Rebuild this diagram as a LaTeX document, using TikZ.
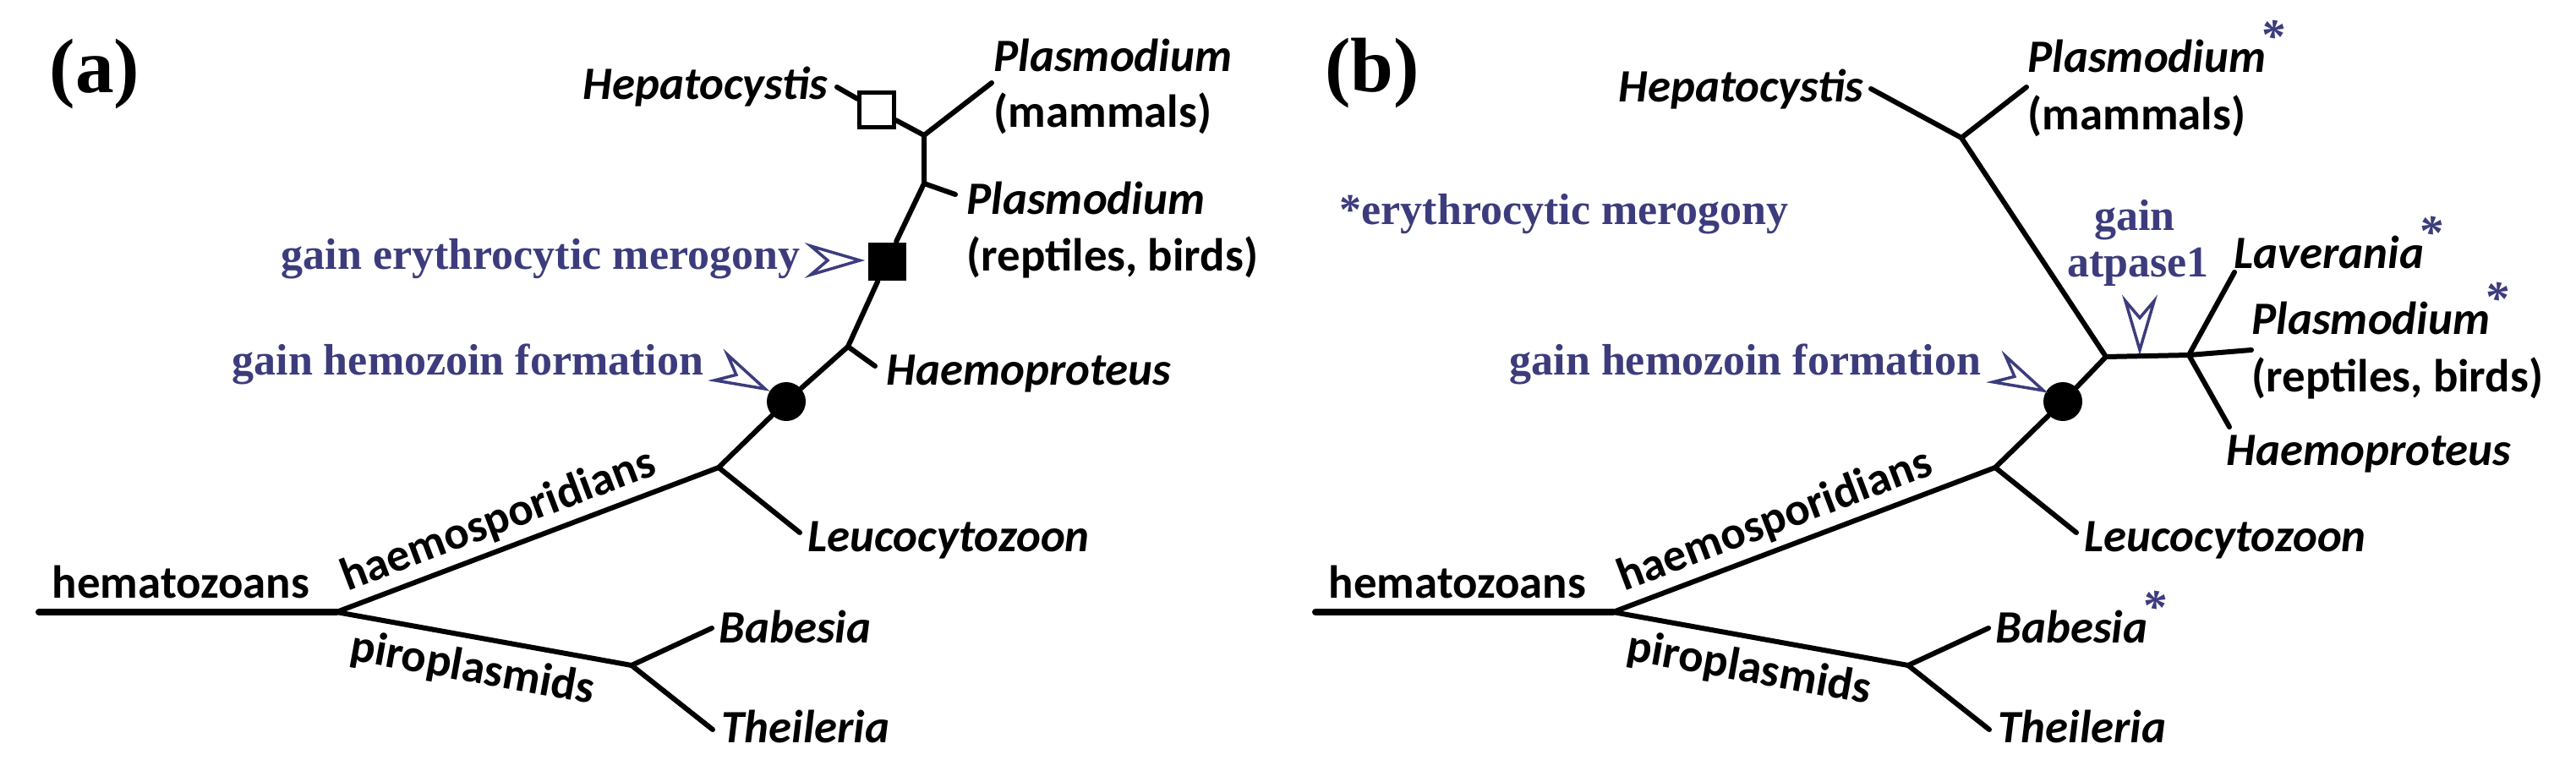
\documentclass[tikz,border=0pt]{standalone}
\usepackage{fontspec}
\setmainfont{Carlito}
\newfontfamily\notefont{Liberation Serif}
\definecolor{gainblue}{RGB}{60,60,125}
\newcommand{\gainstar}{\kern-0.12em\raisebox{0.9ex}{\textcolor{gainblue}{\fontsize{16}{16}\selectfont\notefont\bfseries *}}}
\tikzset{
  branch/.style={line width=0.6mm, line cap=round},
  taxon/.style={inner sep=0pt, font=\fontsize{15.6}{18}\selectfont\bfseries\itshape},
  clade/.style={inner sep=0pt, font=\fontsize{15.6}{18}\selectfont\bfseries},
  gain/.style={inner sep=0pt, text=gainblue, font=\fontsize{14.8}{17}\notefont\bfseries},
  panel/.style={inner sep=0pt, font=\fontsize{26}{30}\notefont\bfseries},
  gainmark/.pic={\draw[gainblue, line width=0.35mm, fill=white]
    (0,0) -- (-5.8,1.7) -- (-3.8,0) -- (-5.8,-1.7) -- cycle;},
}
\begin{document}
\begin{tikzpicture}[x=1mm, y=-1mm]
    \useasboundingbox (0,0) rectangle (304.7,92.4);
    % ---------------- (a)
    \node[panel] (labA) at (11.2,8.8) {(a)};
    % tree points
    \coordinate (startA) at (4.6,72.4);
    \coordinate (rootA) at (39.8,72.4);
    \coordinate (haemA) at (85.0,55.3);
    \coordinate (piroA) at (74.7,78.7);
    \coordinate (babEndA) at (84.2,74.3);
    \coordinate (theEndA) at (84.3,86.3);
    \coordinate (leuEndA) at (94.6,63.0);
    \coordinate (hpA) at (100.3,41.0);
    \coordinate (hpEndA) at (103.5,43.3);
    \coordinate (repA) at (109.3,21.7);
    \coordinate (repEndA) at (113.0,23.0);
    \coordinate (topA) at (109.3,16.0);
    \coordinate (hepEndA) at (99.0,10.3);
    \coordinate (mamEndA) at (117.3,9.8);
    % markers
    \node[circle, fill=black, minimum size=4.6mm, inner sep=0pt] (hzA) at (93.0,47.5) {};
    \node[fill=black, minimum size=4.5mm, inner sep=0pt] (emA) at (104.9,30.9) {};
    \node[draw, fill=white, line width=0.45mm, minimum size=4.1mm, inner sep=0pt] (hsqA) at (103.7,13.0) {};
    % branches
    \draw[branch, line width=0.8mm] (startA) -- (rootA);
    \draw[branch] (rootA) -- (haemA) -- (hzA) -- (hpA) -- (emA) -- (repA) -- (topA);
    \draw[branch] (rootA) -- (piroA);
    \draw[branch] (piroA) -- (babEndA);
    \draw[branch] (piroA) -- (theEndA);
    \draw[branch] (haemA) -- (leuEndA);
    \draw[branch] (hpA) -- (hpEndA);
    \draw[branch] (repA) -- (repEndA);
    \draw[branch] (topA) -- (hsqA) -- (hepEndA);
    \draw[branch] (topA) -- (mamEndA);
    % labels
    \node[clade, anchor=base] (hemA) at (21.4,70.7) {hematozoans};
    \path (rootA) -- node[clade, sloped, above=0.9mm, pos=0.45] (hspA) {haemosporidians} (haemA);
    \path (rootA) -- node[clade, sloped, below=1.4mm, pos=0.48] (pipA) {piroplasmids} (piroA);
    \node[taxon, anchor=base west] (babA) at (85.0,76.0) {Babesia};
    \node[taxon, anchor=base west] (theA) at (85.3,87.8) {Theileria};
    \node[taxon, anchor=base west] (leuA) at (95.5,65.2) {Leucocytozoon};
    \node[taxon, anchor=base west] (haeA) at (104.8,45.5) {Haemoproteus};
    \node[taxon, anchor=base west] (plrA) at (114.3,25.3) {Plasmodium};
    \node[clade, anchor=base west] (rbA) at (114.3,32.0) {(reptiles, birds)};
    \node[taxon, anchor=base west] (plmA) at (117.5,8.4) {Plasmodium};
    \node[clade, anchor=base west] (mmA) at (117.5,15.0) {(mammals)};
    \node[taxon, anchor=base east] (hepA) at (98.0,11.7) {Hepatocystis};
    % gains
    \node[gain, anchor=base east] (gemA) at (94.7,31.8) {gain erythrocytic merogony};
    \pic at (101.7,30.8) {gainmark};
    \node[gain, anchor=base east] (ghzA) at (83.3,44.3) {gain hemozoin formation};
    \pic[rotate=-26] at (90.5,46.0) {gainmark};

    % ---------------- (b)
    \node[panel] (labB) at (162.3,8.7) {(b)};
    \coordinate (startB) at (155.6,72.4);
    \coordinate (rootB) at (190.8,72.4);
    \coordinate (haemB) at (236.0,55.3);
    \coordinate (piroB) at (225.7,78.7);
    \coordinate (babEndB) at (235.2,74.3);
    \coordinate (theEndB) at (235.3,86.3);
    \coordinate (leuEndB) at (245.6,63.0);
    \coordinate (atpB) at (249.1,42.2);
    \coordinate (lavB) at (258.9,42.0);
    \coordinate (plrEndB) at (266.3,41.4);
    \coordinate (lavEndB) at (264.3,32.2);
    \coordinate (haeEndB) at (263.7,50.5);
    \coordinate (topB) at (232.0,16.3);
    \coordinate (hepEndB) at (221.3,10.5);
    \coordinate (mamEndB) at (239.7,10.3);
    \node[circle, fill=black, minimum size=4.6mm, inner sep=0pt] (hzB) at (244.0,47.5) {};
    % branches
    \draw[branch, line width=0.8mm] (startB) -- (rootB);
    \draw[branch] (rootB) -- (haemB) -- (hzB) -- (atpB) -- (lavB) -- (plrEndB);
    \draw[branch] (rootB) -- (piroB);
    \draw[branch] (piroB) -- (babEndB);
    \draw[branch] (piroB) -- (theEndB);
    \draw[branch] (haemB) -- (leuEndB);
    \draw[branch] (lavB) -- (lavEndB);
    \draw[branch] (lavB) -- (haeEndB);
    \draw[branch] (atpB) -- (topB);
    \draw[branch] (topB) -- (hepEndB);
    \draw[branch] (topB) -- (mamEndB);
    % labels
    \node[clade, anchor=base] (hemB) at (172.4,70.7) {hematozoans};
    \path (rootB) -- node[clade, sloped, above=0.9mm, pos=0.45] (hspB) {haemosporidians} (haemB);
    \path (rootB) -- node[clade, sloped, below=1.4mm, pos=0.48] (pipB) {piroplasmids} (piroB);
    \node[taxon, anchor=base west] (babB) at (236.0,76.0) {Babesia\gainstar};
    \node[taxon, anchor=base west] (theB) at (236.3,87.8) {Theileria};
    \node[taxon, anchor=base west] (leuB) at (246.5,65.2) {Leucocytozoon};
    \node[taxon, anchor=base west] (haeB) at (263.3,55.0) {Haemoproteus};
    \node[taxon, anchor=base west] (plrB) at (266.3,39.5) {Plasmodium\gainstar};
    \node[clade, anchor=base west] (rbB) at (266.3,46.3) {(reptiles, birds)};
    \node[taxon, anchor=base west] (lavLabB) at (264.2,31.7) {Laverania\gainstar};
    \node[taxon, anchor=base west] (plmB) at (239.8,8.5) {Plasmodium\gainstar};
    \node[clade, anchor=base west] (mmB) at (239.8,15.3) {(mammals)};
    \node[taxon, anchor=base east] (hepB) at (220.5,12.0) {Hepatocystis};
    % gains
    \node[gain, anchor=base west] (footB) at (158.4,26.5) {*erythrocytic merogony};
    \node[gain, anchor=base] (gnB) at (252.5,27.2) {gain};
    \node[gain, anchor=base] (atB) at (252.9,32.7) {atpase1};
    \pic[rotate=-90] at (253.1,41.4) {gainmark};
    \node[gain, anchor=base east] (ghzB) at (234.4,44.3) {gain hemozoin formation};
    \pic[rotate=-26] at (241.7,46.2) {gainmark};
\end{tikzpicture}
\end{document}
